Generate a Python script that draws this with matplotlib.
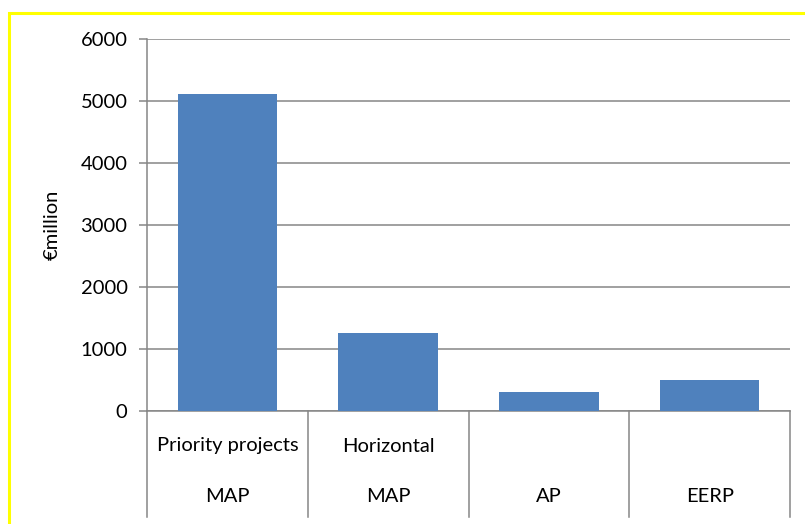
import matplotlib.pyplot as plt
from matplotlib.patches import Rectangle
from matplotlib.transforms import blended_transform_factory

plt.rcParams['font.family'] = ['Lato', 'DejaVu Sans']

categories = ['Priority projects', 'Horizontal', '', '']
groups = ['MAP', 'MAP', 'AP', 'EERP']
values = [5100, 1250, 300, 500]

W, H = 805, 524
fig = plt.figure(figsize=(W / 100, H / 100), dpi=100)
fig.patch.set_facecolor('white')

# yellow frame (runs off the right and bottom edges)
fig.patches.append(Rectangle((9 / W, -0.1), 1.2, 1 - 13 / H + 0.1,
                             transform=fig.transFigure, fill=False,
                             edgecolor='#FFFF00', linewidth=2.2))

left, right = 147 / W, 790 / W
bottom, top = 1 - 410.7 / H, 1 - 38.5 / H
ax = fig.add_axes([left, bottom, right - left, top - bottom])

x = range(len(values))
ax.bar(x, values, width=0.62, color='#4F81BD', zorder=3)
ax.set_xlim(-0.5, len(values) - 0.5)
ax.set_ylim(0, 6000)
ax.set_yticks(range(0, 6001, 1000))
ax.yaxis.grid(True, color='#868686', linewidth=1.1)
ax.set_axisbelow(True)
for s in ['top', 'right']:
    ax.spines[s].set_visible(False)
ax.spines['left'].set_color('#868686')
ax.spines['bottom'].set_color('#868686')
ax.spines['left'].set_linewidth(1.1)
ax.spines['bottom'].set_linewidth(1.1)
ax.set_xticks([])
ax.tick_params(axis='y', colors='#868686', length=6, width=1.1,
               labelcolor='#000000', labelsize=14.5, pad=8)
ax.set_ylabel('€million', fontsize=14.5, labelpad=14)

# two level category axis
trans = blended_transform_factory(ax.transData, fig.transFigure)
y_low = 1 - 517 / H
for i in range(len(values) + 1):
    ax.plot([i - 0.5, i - 0.5], [bottom, y_low], transform=trans,
            color='#868686', linewidth=1.1, clip_on=False)
for i, (c, g) in enumerate(zip(categories, groups)):
    ax.text(i, 1 - 446 / H, c, transform=trans, ha='center', va='center',
            fontsize=14.5)
    ax.text(i, 1 - 497 / H, g, transform=trans, ha='center', va='center',
            fontsize=14.5)

fig.savefig('out.png', dpi=100)
